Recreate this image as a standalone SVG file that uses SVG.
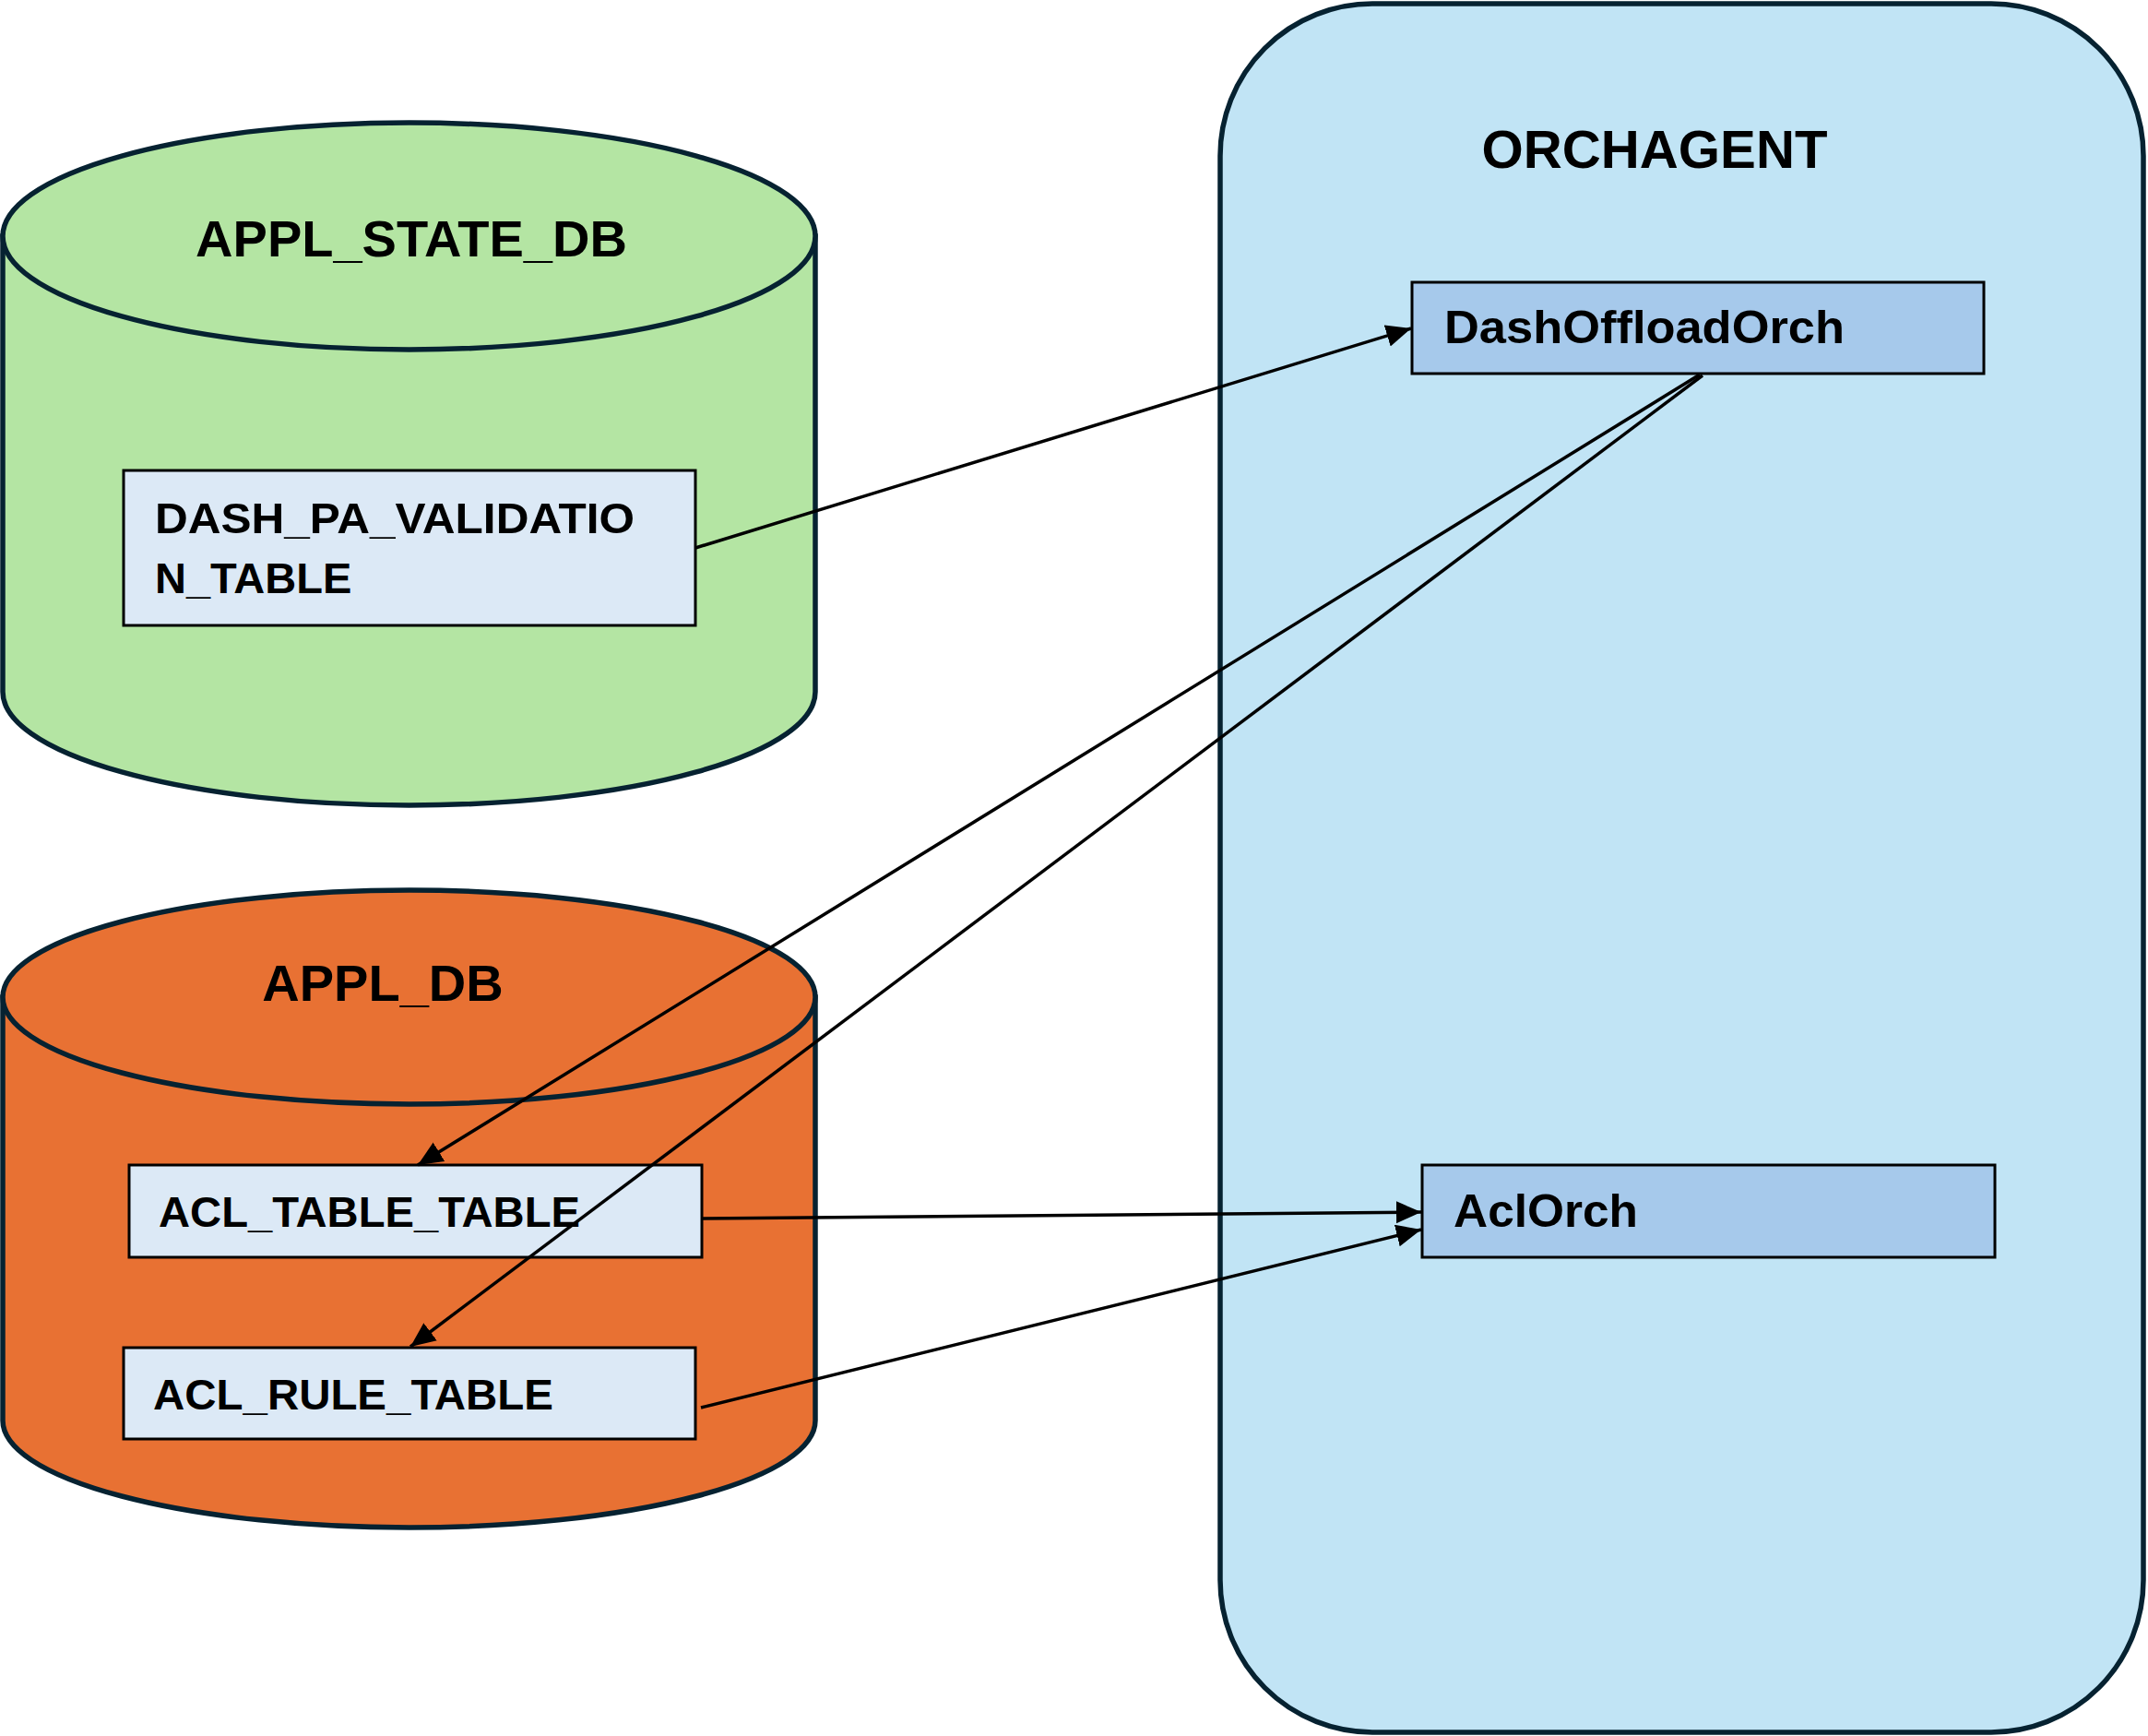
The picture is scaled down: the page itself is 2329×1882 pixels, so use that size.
<svg xmlns="http://www.w3.org/2000/svg" width="2329" height="1882" viewBox="0 0 2329 1882">
<defs>
<style>
.cyl{stroke:#062231;stroke-width:5.5}
.tbl{fill:#dce9f6;stroke:#000;stroke-width:3}
.orch{fill:#a6c9eb;stroke:#000;stroke-width:3}
text{font-family:"Liberation Sans",Arial,sans-serif;font-weight:bold;fill:#000}
.t{font-size:47px}
.o{font-size:50px}
.h{font-size:56px;text-anchor:middle}
.conn{fill:none;stroke:#000;stroke-width:3.5}
</style>
<marker id="arr" markerUnits="userSpaceOnUse" markerWidth="28" markerHeight="26" refX="27" refY="12" orient="auto">
<path d="M0,0 L27,12 L0,24 Z" fill="#000"/>
</marker>
</defs>
<rect width="2329" height="1882" fill="#fff"/>
<g id="orchagent">
<rect x="1323" y="4" width="1001" height="1874" rx="165" ry="165" fill="#c1e4f5" stroke="#062231" stroke-width="5.5"/>
<text class="h" x="1794" y="182" style="font-size:58px" textLength="375" lengthAdjust="spacingAndGlyphs">ORCHAGENT</text>
</g>
<g id="appl_state_db">
<path class="cyl" fill="#b4e5a3" d="M3,256 V750 A440.5,123 0 0 0 884,750 V256 Z"/>
<ellipse class="cyl" fill="#b4e5a3" cx="443.5" cy="256" rx="440.5" ry="123"/>
<text class="h" x="446" y="278">APPL_STATE_DB</text>
</g>
<g id="dash_pa_validation_table">
<rect class="tbl" x="134" y="510" width="620" height="168"/>
<text class="t" x="168" y="578" textLength="520" lengthAdjust="spacingAndGlyphs">DASH_PA_VALIDATIO</text>
<text class="t" x="168" y="643">N_TABLE</text>
</g>
<g id="appl_db">
<path class="cyl" fill="#e87133" d="M3,1081 V1540 A440.5,116 0 0 0 884,1540 V1081 Z"/>
<ellipse class="cyl" fill="#e87133" cx="443.5" cy="1081" rx="440.5" ry="116"/>
<text class="h" x="415" y="1085">APPL_DB</text>
</g>
<g id="acl_table_table">
<rect class="tbl" x="140" y="1263" width="621" height="100"/>
<text class="t" x="172" y="1330" textLength="457" lengthAdjust="spacingAndGlyphs">ACL_TABLE_TABLE</text>
</g>
<g id="acl_rule_table">
<rect class="tbl" x="134" y="1461" width="620" height="99"/>
<text class="t" x="166" y="1528" textLength="434" lengthAdjust="spacingAndGlyphs">ACL_RULE_TABLE</text>
</g>
<g id="dashoffloadorch">
<rect class="orch" x="1531" y="306" width="620" height="99"/>
<text class="o" x="1566" y="372" textLength="434" lengthAdjust="spacingAndGlyphs">DashOffloadOrch</text>
</g>
<g id="aclorch">
<rect class="orch" x="1542" y="1263" width="621" height="100"/>
<text class="o" x="1576" y="1330" textLength="200" lengthAdjust="spacingAndGlyphs">AclOrch</text>
</g>
<g id="connectors">
<line class="conn" x1="754" y1="594" x2="1530" y2="356" marker-end="url(#arr)"/>
<line class="conn" x1="1843" y1="406" x2="453" y2="1263" marker-end="url(#arr)"/>
<line class="conn" x1="1846" y1="407" x2="445" y2="1460" marker-end="url(#arr)"/>
<line class="conn" x1="761" y1="1321" x2="1541" y2="1314" marker-end="url(#arr)"/>
<line class="conn" x1="760" y1="1526" x2="1541" y2="1333" marker-end="url(#arr)"/>
</g>
</svg>
